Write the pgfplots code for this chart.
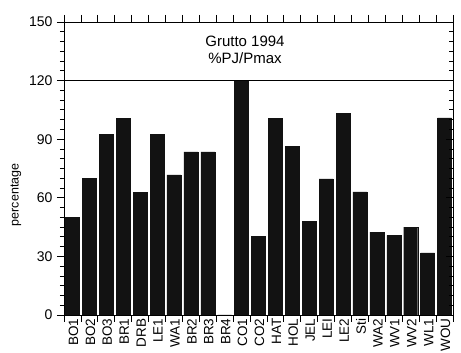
\documentclass[border=0pt]{standalone}
\usepackage{pgfplots}
\pgfplotsset{compat=1.18}
\usepackage{fontspec}
\setmainfont{Liberation Sans}
\begin{document}
\begin{tikzpicture}
\path[use as bounding box] (0,0) rectangle (461pt,353pt);
\begin{axis}[
  at={(64pt,38pt)}, anchor=south west,
  scale only axis, width=389pt, height=293pt,
  xmin=-0.5, xmax=22.5, ymin=0, ymax=150,
  xtick={-0.5,0.5,...,22.5}, xticklabels={},
  extra x ticks={0,1,...,22},
  extra x tick labels={BO1,BO2,BO3,BR1,DRB,LE1,WA1,BR2,BR3,BR4,CO1,CO2,HAT,HOL,JEL,LEI,LE2,Sti,WA2,WV1,WV2,WL1,WOU},
  extra x tick style={major tick length=0pt, tick label style={rotate=90, anchor=east, yshift=-1pt, font=\fontsize{13.5}{14}\selectfont}},
  xtick pos=both,
  ytick={0,30,...,150}, minor y tick num=5, ytick pos=left,
  tick align=outside, major tick length=7pt, minor tick length=4pt,
  tick style={black, line width=0.8pt},
  axis line style={line width=0.8pt},
  /pgf/number format/assume math mode=true,
  yticklabel style={font=\fontsize{14}{15}\selectfont, xshift=-1pt},
  ybar, bar width=14pt, bar shift=0pt,
  clip=false,
]
\addplot[fill=black!93, draw=black!93] coordinates {
(0,50) (1,70) (2,92.5) (3,100.5) (4,62.7) (5,92.5) (6,71.7) (7,83.5) (8,83.5) (9,0)
(10,120.3) (11,40.4) (12,100.5) (13,86.3) (14,48.1) (15,69.7) (16,103.2) (17,63)
(18,42.4) (19,40.8) (20,45) (21,31.8) (22,100.9)};
\addplot[sharp plot, black, line width=0.8pt] coordinates {(-0.5,120) (22.5,120)};
\node[align=center, font=\fontsize{15}{17}\selectfont] at (axis cs:10.2,135.5) {Grutto 1994\\\%PJ/Pmax};
\node[rotate=90, font=\fontsize{12.5}{13}\selectfont, xshift=0pt] at ([xshift=-48pt]rel axis cs:0,0.41) {percentage};
\end{axis}
\begin{axis}[
  at={(64pt,38pt)}, anchor=south west,
  scale only axis, width=389pt, height=293pt,
  xmin=-0.5, xmax=22.5, ymin=0, ymax=150,
  xtick=\empty,
  ytick={0,30,...,150}, yticklabels={}, minor y tick num=5, ytick pos=right,
  tick align=inside, major tick length=7pt, minor tick length=4pt,
  tick style={black, line width=0.8pt},
  axis line style={line width=0.8pt},
]
\end{axis}
\end{tikzpicture}
\end{document}
